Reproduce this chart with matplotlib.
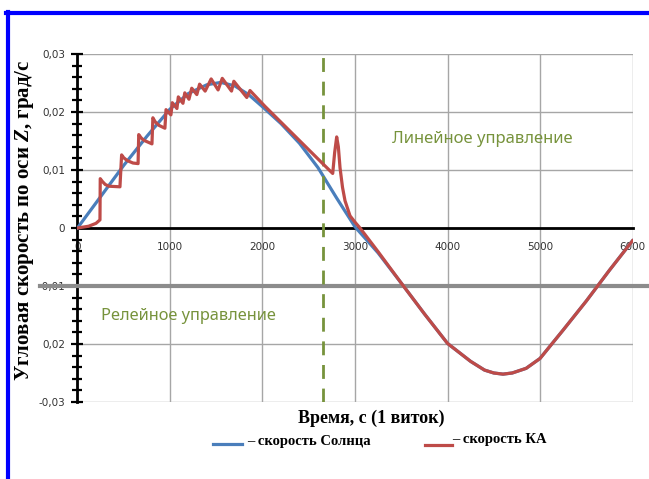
import matplotlib.pyplot as plt
from matplotlib.lines import Line2D
from matplotlib.ticker import MultipleLocator
import matplotlib.transforms as mtransforms

plt.rcParams['font.family'] = ['DejaVu Sans']
plt.rcParams['mathtext.fontset'] = 'custom'
plt.rcParams['mathtext.it'] = 'Liberation Serif:italic:bold'
plt.rcParams['mathtext.rm'] = 'Liberation Serif:bold'

# angular rate of the Sun direction (blue)
sun_t = [0, 250, 500, 750, 1000, 1200, 1400, 1550, 1700, 1850, 2000, 2200,
         2400, 2600, 2800, 3000, 3250, 3500, 3750, 4000, 4250, 4400, 4500,
         4600, 4700, 4850, 5000, 5250, 5500, 5750, 6000]
sun_w = [0, 0.0054, 0.0108, 0.0158, 0.0205, 0.0232, 0.0247, 0.0251, 0.0245,
         0.0230, 0.0209, 0.0180, 0.0146, 0.0104, 0.0052, 0.0002, -0.0043,
         -0.0095, -0.0148, -0.0199, -0.0230, -0.0245, -0.0250, -0.0252,
         -0.0250, -0.0242, -0.0225, -0.0176, -0.0126, -0.0073, -0.0022]

# angular rate of the spacecraft (red)
ka_t = [0, 120, 200, 243, 246, 270, 300, 340, 459, 477, 500, 540, 600, 655,
        662, 690, 720, 805, 815, 840, 880, 945, 957, 1010, 1025, 1075, 1090,
        1140, 1160, 1205, 1235, 1290, 1320, 1380, 1445, 1520, 1565, 1665,
        1690, 1830, 1865, 2025, 2657, 2759, 2780, 2802, 2820, 2838, 2865,
        2892, 2946, 3000, 3054, 3250, 3500, 3750, 4000, 4250, 4400, 4500,
        4600, 4700, 4850, 5000, 5250, 5500, 5750, 6000]
ka_w = [0, 0.0003, 0.0008, 0.0014, 0.0085, 0.0080, 0.0075, 0.0072, 0.0071,
        0.0126, 0.0121, 0.0116, 0.0112, 0.0111, 0.0161, 0.0155, 0.0151,
        0.0145, 0.0190, 0.0183, 0.0177, 0.0172, 0.0204, 0.0195, 0.0216,
        0.0206, 0.0226, 0.0215, 0.0233, 0.0222, 0.0241, 0.0230, 0.0248,
        0.0236, 0.0257, 0.0238, 0.0258, 0.0236, 0.0253, 0.0225, 0.0237,
        0.0210, 0.0110, 0.0094, 0.0130, 0.0157, 0.0140, 0.0104, 0.0070,
        0.0047, 0.0021, 0.0010, 0.0, -0.0041, -0.0095, -0.0148, -0.0199,
        -0.0230, -0.0245, -0.0250, -0.0252, -0.0250, -0.0242, -0.0225,
        -0.0176, -0.0126, -0.0073, -0.0022]

switch_t = 2650        # switch from relay to linear control
relay_level = -0.01
x_ticks = [0, 1000, 2000, 3000, 4000, 5000, 6000]
y_ticks = [-0.03, -0.02, -0.01, 0, 0.01, 0.02, 0.03]
y_labels = ['-0,03', '0,02', '-0,01', '0', '0,01', '0,02', '0,03']

blue = '#4a7ebb'
red = '#be4b48'
green = '#77933c'

fig = plt.figure(figsize=(6.49, 4.79), dpi=100)
ax = fig.add_axes([0.1194, 0.1608, 0.8552, 0.7265])
ax.set_xlim(0, 6000)
ax.set_ylim(-0.03, 0.03)

ax.grid(True, color='#a6a6a6', lw=1)
ax.spines['top'].set_visible(False)
ax.spines['right'].set_visible(False)
ax.spines['bottom'].set_position(('data', 0))
ax.spines['bottom'].set_linewidth(2)
ax.spines['left'].set_linewidth(2)

ax.set_xticks(x_ticks)
ax.tick_params(axis='x', length=0, pad=10, labelsize=7.5, labelcolor='#333333')
ax.set_yticks(y_ticks)
ax.set_yticklabels(y_labels)
ax.yaxis.set_minor_locator(MultipleLocator(0.002))
ax.tick_params(axis='y', which='major', direction='inout', length=8, width=1.6,
               pad=5, labelsize=7.5, labelcolor='#333333')
ax.tick_params(axis='y', which='minor', direction='inout', length=7, width=1.6)

ax.plot(sun_t, sun_w, color=blue, lw=2.3, zorder=4)
ax.axvline(switch_t, color=green, lw=2, dashes=(5, 3.5), zorder=4.5)
ax.plot(ka_t, ka_w, color=red, lw=2.3, zorder=5)

trans = mtransforms.blended_transform_factory(fig.transFigure, ax.transData)
ax.plot([40 / 649, 1.0], [relay_level, relay_level], transform=trans,
        color='#8c8c8c', lw=3, clip_on=False, zorder=4.2)

ax.text(3400, 0.0154, 'Линейное управление', color=green, fontsize=12,
        family=['Noto Sans', 'DejaVu Sans'], va='center')
ax.text(250, -0.0152, 'Релейное управление', color=green, fontsize=11.8,
        family=['Noto Sans', 'DejaVu Sans'], va='center')

serif = ['Liberation Serif', 'DejaVu Serif']
fig.text(371 / 649, 1 - 418 / 479, 'Время, с (1 виток)', ha='center', va='center',
         fontsize=13, fontweight='bold', family=serif)
fig.text(25 / 649, 1 - 220 / 479, 'Угловая скорость по оси $\\mathit{Z}$, град/с',
         rotation=90, ha='center', va='center', fontsize=15,
         fontweight='bold', family=serif)

# legend drawn by hand, as in the original
fig.add_artist(Line2D([213 / 649, 242 / 649], [1 - 444 / 479] * 2, color=blue,
                      lw=2.3, transform=fig.transFigure))
fig.text(247 / 649, 1 - 442 / 479, '– скорость Солнца', ha='left', va='center',
         fontsize=10.5, fontweight='bold', family=serif)
fig.add_artist(Line2D([425 / 649, 452 / 649], [1 - 445 / 479] * 2, color=red,
                      lw=2.3, transform=fig.transFigure))
fig.text(452 / 649, 1 - 439 / 479, '– скорость КА', ha='left', va='center',
         fontsize=10.5, fontweight='bold', family=serif)

# blue frame at top and left
fig.add_artist(Line2D([6 / 649, 1], [1 - 13 / 479] * 2, color='#0000ff', lw=3,
                      transform=fig.transFigure))
fig.add_artist(Line2D([7.5 / 649] * 2, [0, 1 - 11.5 / 479], color='#0000ff', lw=3,
                      transform=fig.transFigure))

plt.savefig('out.png', dpi=100)
